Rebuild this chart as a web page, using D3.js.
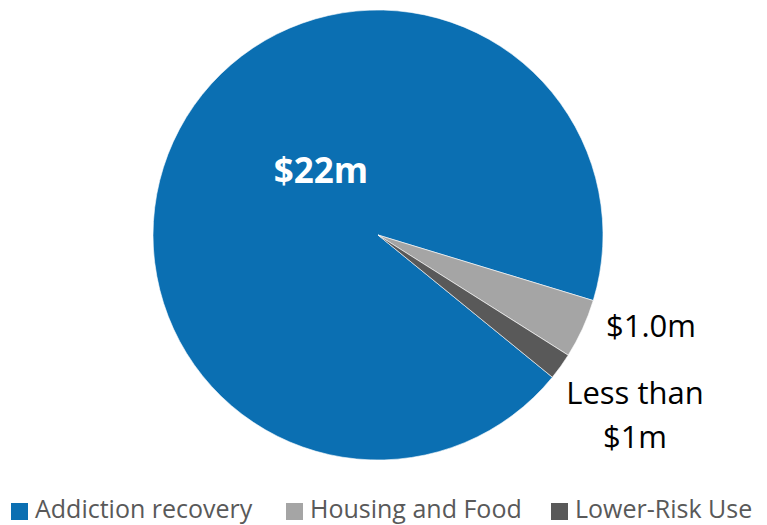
<!DOCTYPE html>
<html>
<head>
<meta charset="utf-8">
<script src="https://cdn.jsdelivr.net/npm/d3@7"></script>
<style>
  html, body { margin: 0; padding: 0; background: #fff; }
  svg { display: block; }
</style>
</head>
<body>
<svg id="chart" width="767" height="525"></svg>
<script>
// Spending by category, in $ millions
const categories = ["Addiction recovery", "Housing and Food", "Lower-Risk Use"];
const values = [22, 1.0, 0.45];
const sliceLabels = [["$22m"], ["$1.0m"], ["Less than", "$1m"]];
const colors = ["#0b6fb2", "#a5a5a5", "#595959"];

const svg = d3.select("#chart");
const cx = 378, cy = 235, radius = 225;
const deg = Math.PI / 180;

const pie = d3.pie()
  .sort(null)
  .value(d => d)
  .startAngle(129.2 * deg)
  .endAngle((129.2 + 360) * deg);

const arcs = pie(values);
const arc = d3.arc().innerRadius(0).outerRadius(radius);

const g = svg.append("g").attr("transform", `translate(${cx},${cy})`);

g.selectAll("path.slice")
  .data(arcs)
  .join("path")
  .attr("class", "slice")
  .attr("d", arc)
  .attr("fill", (d, i) => colors[i])
  .attr("stroke", "#ffffff")
  .attr("stroke-width", 0.6);

// Data labels: big one inside the main slice, the small ones outside
const labelPos = [
  { x: 321, y: 183, size: 35, weight: 700, fill: "#ffffff" },
  { x: 651, y: 337, size: 31, weight: 400, fill: "#000000" },
  { x: 635, y: 404, size: 31, weight: 400, fill: "#000000", lineGap: 44 }
];

arcs.forEach((a, i) => {
  const p = labelPos[i];
  const t = svg.append("text")
    .attr("x", p.x)
    .attr("y", p.y)
    .attr("text-anchor", "middle")
    .attr("font-family", "'Open Sans', sans-serif")
    .attr("font-size", p.size)
    .attr("font-weight", p.weight)
    .attr("fill", p.fill);
  sliceLabels[i].forEach((line, k) => {
    t.append("tspan")
      .attr("x", p.x)
      .attr("dy", k === 0 ? 0 : p.lineGap)
      .text(line);
  });
});

// Legend along the bottom
const legendX = [11, 286, 551];
const legend = svg.append("g");
categories.forEach((c, i) => {
  legend.append("rect")
    .attr("x", legendX[i])
    .attr("y", 503)
    .attr("width", 17)
    .attr("height", 17)
    .attr("fill", colors[i]);
  legend.append("text")
    .attr("x", legendX[i] + 24)
    .attr("y", 518)
    .attr("font-family", "'Open Sans', sans-serif")
    .attr("font-size", 25)
    .attr("fill", "#595959")
    .text(c);
});
</script>
</body>
</html>
